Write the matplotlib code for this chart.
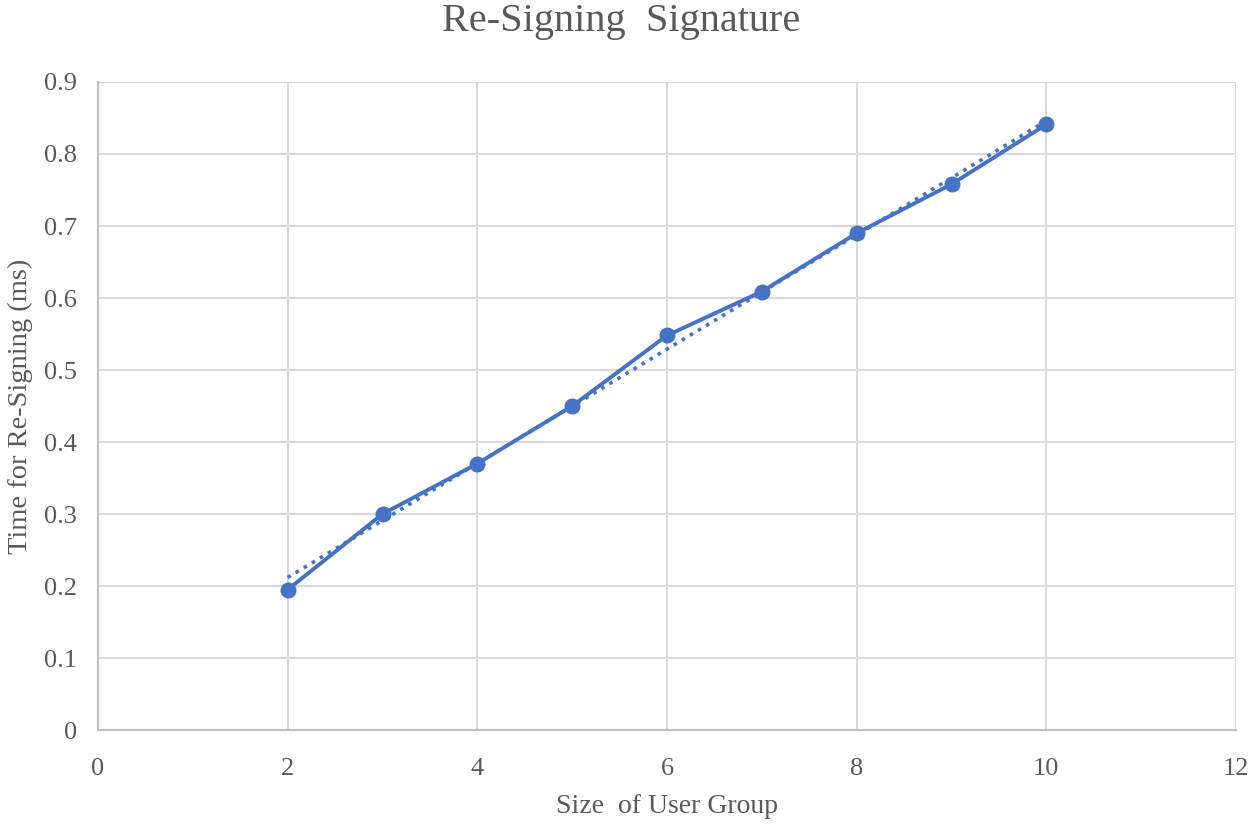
import numpy as np
import matplotlib
matplotlib.use("Agg")
import matplotlib.pyplot as plt

group_size = [2, 3, 4, 5, 6, 7, 8, 9, 10]
resign_time = [0.195, 0.30, 0.37, 0.45, 0.548, 0.609, 0.69, 0.758, 0.841]
x_ticks = [0, 2, 4, 6, 8, 10, 12]
y_ticks = [0, 0.1, 0.2, 0.3, 0.4, 0.5, 0.6, 0.7, 0.8, 0.9]
y_tick_labels = ["0", "0.1", "0.2", "0.3", "0.4", "0.5", "0.6", "0.7", "0.8", "0.9"]

plt.rcParams['font.family'] = ['Liberation Serif', 'DejaVu Serif']
color = "#4472C4"
text_color = "#595959"

fig = plt.figure(figsize=(12.5, 8.24), dpi=100)
ax = fig.add_axes([0.0784, 0.114, 0.9104, 0.7865])

# linear trendline
coef = np.polyfit(group_size, resign_time, 1)
xt = np.array([group_size[0], group_size[-1]], dtype=float)
ax.plot(xt, np.polyval(coef, xt), linestyle=(0, (1, 1.6)), color=color, linewidth=2.6, zorder=3)

ax.plot(group_size, resign_time, color=color, linewidth=2.8, marker='o', markersize=10.5, zorder=4)

ax.set_xlim(0, 12)
ax.set_ylim(0, 0.9)
ax.set_xticks(x_ticks)
ax.set_yticks(y_ticks)
ax.set_yticklabels(y_tick_labels)
ax.grid(True, color="#d9d9d9", linewidth=1.5)
ax.set_axisbelow(True)
for s in ["top", "right"]:
    ax.spines[s].set_visible(False)
for s in ["left", "bottom"]:
    ax.spines[s].set_color("#bfbfbf")
    ax.spines[s].set_linewidth(1.5)
ax.tick_params(length=0, labelsize=19, colors=text_color, pad=15)
ax.tick_params(axis='x', pad=20)
ax.set_xlabel("Size  of User Group", fontsize=20, color=text_color, labelpad=10)
ax.set_ylabel("Time for Re-Signing (ms)", fontsize=20.5, color=text_color, labelpad=8)
fig.text(0.4968, 0.974, "Re-Signing  Signature", fontsize=29, color=text_color, ha='center', va='center')

fig.savefig("out.png", dpi=100)
